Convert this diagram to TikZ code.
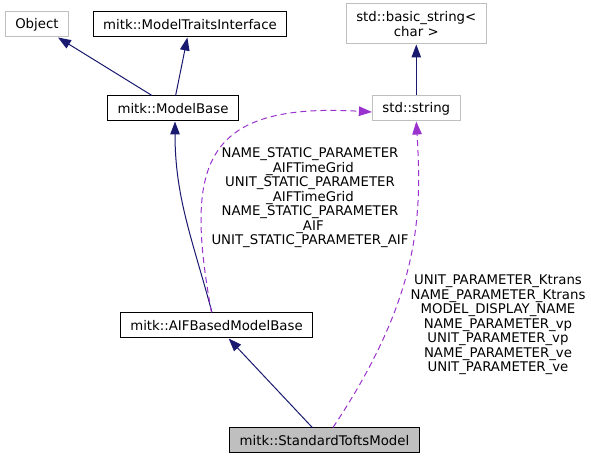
\documentclass[tikz,border=0pt]{standalone}
\usepackage{fontspec}
\setmainfont{DejaVu Sans}
\usetikzlibrary{arrows.meta, positioning}

\definecolor{boxgray}{HTML}{BFBFBF}
\definecolor{inhblue}{HTML}{191970}
\definecolor{usepurple}{HTML}{9A32CD}

\begin{document}
\begin{tikzpicture}[x=1pt, y=1pt, font=\fontsize{13.3}{14.5}\selectfont,
		cls/.style={draw=black, line width=1pt, minimum height=25pt, inner xsep=10pt, inner ysep=0pt},
		ext/.style={cls, draw=boxgray},
		this/.style={cls, fill=boxgray},
		inh/.style={inhblue, line width=1pt, -{Triangle[length=13pt, width=9.5pt]}},
		use/.style={usepurple, line width=1pt, dash pattern=on 6pt off 4pt, -{Triangle[length=13pt, width=9.5pt]}},
		lbl/.style={black, align=center, inner sep=0pt}]
		\useasboundingbox (0,0) rectangle (591,457);

		\node (mb) [cls] at (173,348.5) {mitk::ModelBase};
		\node (obj) [ext, above left = 58pt and 38pt of mb] {Object};
		\node (mti) [cls, above = 58pt of mb, xshift=17pt] {mitk::ModelTraitsInterface};
		\node (str) [ext, right = 133pt of mb] {std::string};
		\node (bstr) [ext, above = 51pt of str, minimum height=40pt, align=center] {std::basic\_string<\\char >};
		\node (aif) [cls, below = 191pt of mb, xshift=43.5pt] {mitk::AIFBasedModelBase};
		\node (stm) [this, below = 89pt of aif, xshift=108pt] {mitk::StandardToftsModel};

		\node (lbla) [lbl] at (310,259) {NAME\_STATIC\_PARAMETER\\\_AIFTimeGrid\\UNIT\_STATIC\_PARAMETER\\\_AIFTimeGrid\\NAME\_STATIC\_PARAMETER\\\_AIF\\UNIT\_STATIC\_PARAMETER\_AIF};
		\node (lblb) [lbl] at (498,132) {UNIT\_PARAMETER\_Ktrans\\NAME\_PARAMETER\_Ktrans\\MODEL\_DISPLAY\_NAME\\NAME\_PARAMETER\_vp\\UNIT\_PARAMETER\_vp\\NAME\_PARAMETER\_ve\\UNIT\_PARAMETER\_ve};

		\path [inh]
		(mb) edge (obj)
		(mb) edge (mti)
		(str) edge (bstr)
		([xshift=-4.5pt]aif.north) edge [out=105, in=-90] ([xshift=2pt]mb.south)
		(stm) edge (aif)
		;

		\draw [use] ([xshift=-5pt]aif.north) .. controls (185,290) and (200,355) .. ([yshift=-3.5pt]str.west);
		\draw [use] ([xshift=8.5pt]stm.north) .. controls (420,160) and (422,240) .. (str.south);
	\end{tikzpicture}
\end{document}
